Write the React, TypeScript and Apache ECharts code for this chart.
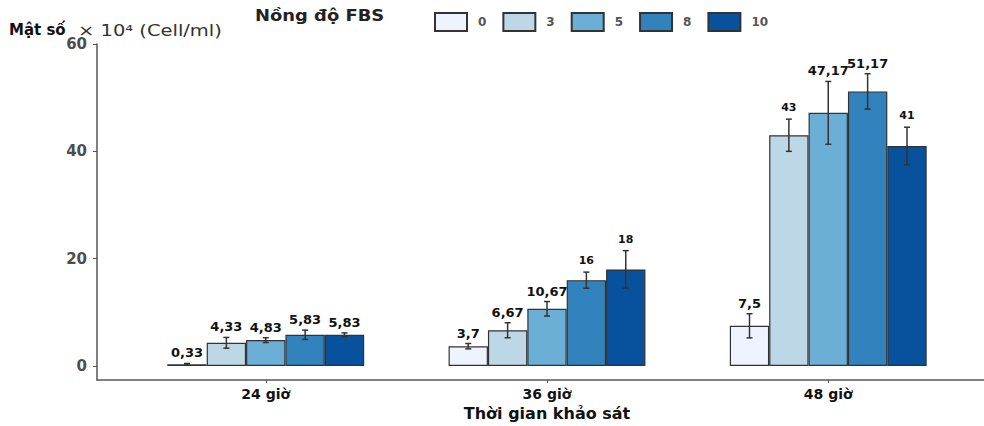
import React, { useEffect, useRef } from "react";
import * as echarts from "echarts";

const timeLabels = ["24 giờ", "36 giờ", "48 giờ"];
const fbsLevels = ["0", "3", "5", "8", "10"];
const mean24 = [0.33, 4.33, 4.83, 5.83, 5.83];
const mean36 = [3.7, 6.67, 10.67, 16, 18];
const mean48 = [7.5, 43, 47.17, 51.17, 41];
const err24 = [0.15, 1.0, 0.45, 0.87, 0.35];
const err36 = [0.5, 1.4, 1.35, 1.5, 3.5];
const err48 = [2.25, 3.0, 5.85, 3.3, 3.5];
const yTicks = [0, 20, 40, 60];

const colors = ["#eff3ff", "#bdd7e7", "#6baed6", "#3182bd", "#08519c"];
const FONT = "DejaVu Sans";
const barFrac = 0.14;

export default function App() {
  const ref = useRef<HTMLDivElement>(null);
  useEffect(() => {
    document.body.style.margin = "0";
    if (!ref.current) return;
    const chart = echarts.init(ref.current, undefined, { renderer: "svg" });
    const means = [mean24, mean36, mean48];
    const errs = [err24, err36, err48];
    const n = fbsLevels.length;

    const barSeries = fbsLevels.map((lvl, i) => ({
      name: lvl,
      type: "bar",
      barWidth: `${barFrac * 100}%`,
      barGap: "0%",
      itemStyle: { color: colors[i], borderColor: "#333", borderWidth: 1.2 },
      data: timeLabels.map((_, t) => [t + 1, means[t][i]]),
    }));

    const errData: number[][] = [];
    timeLabels.forEach((_, t) => {
      fbsLevels.forEach((__, i) => {
        errData.push([t + 1, i, means[t][i], errs[t][i]]);
      });
    });

    const errSeries = {
      type: "custom",
      data: errData,
      encode: { x: 0, y: 2 },
      z: 5,
      renderItem: (params: any, api: any) => {
        const t = api.value(0);
        const c = api.value(1);
        const m = api.value(2);
        const e = api.value(3);
        const bw = api.size([barFrac, 0])[0];
        const base = api.coord([t, m]);
        const x = base[0] + (c - (n - 1) / 2) * bw;
        const yTop = api.coord([t, m + e])[1];
        const yBot = api.coord([t, m - e])[1];
        const cap = 3;
        const ls = { stroke: "#333", lineWidth: 1.5 };
        const isInt = Number.isInteger(m);
        return {
          type: "group",
          children: [
            { type: "line", shape: { x1: x, y1: yTop, x2: x, y2: yBot }, style: ls },
            { type: "line", shape: { x1: x - cap, y1: yTop, x2: x + cap, y2: yTop }, style: ls },
            { type: "line", shape: { x1: x - cap, y1: yBot, x2: x + cap, y2: yBot }, style: ls },
            {
              type: "text",
              x: x,
              y: yTop - (isInt ? 6 : 4),
              style: {
                text: String(m).replace(".", ","),
                fontFamily: FONT,
                fontWeight: "bold",
                fontSize: isInt ? 11 : 13,
                fill: "#111",
                textAlign: "center",
                textVerticalAlign: "bottom",
              },
            },
          ],
        };
      },
    };

    chart.setOption({
      animation: false,
      textStyle: { fontFamily: FONT },
      grid: { left: 97, right: -13, top: 44, bottom: 46, containLabel: false, outerBoundsMode: "none" },
      legend: {
        data: fbsLevels,
        left: 429,
        top: 7,
        itemWidth: 32,
        itemHeight: 18,
        itemGap: 16,
        icon: "rect",
        selectedMode: false,
        textStyle: { color: "#555", fontWeight: "bold", fontSize: 12, fontFamily: FONT, padding: [0, 0, 0, 6] },
      },
      xAxis: {
        type: "value",
        min: 0.4,
        max: 3.6,
        splitLine: { show: false },
        axisLine: { onZero: false, lineStyle: { color: "#555", width: 1.5 } },
        axisTick: { show: true, customValues: [1, 2, 3], length: 3, lineStyle: { color: "#555" } },
        axisLabel: {
          customValues: [1, 2, 3],
          formatter: (v: number) => timeLabels[Math.round(v) - 1],
          color: "#111",
          fontWeight: "bold",
          fontSize: 14,
          fontFamily: FONT,
          margin: 7,
        },
        name: "Thời gian khảo sát",
        nameLocation: "middle",
        nameGap: 23,
        nameTextStyle: { color: "#111", fontWeight: "bold", fontSize: 16, fontFamily: FONT },
      },
      yAxis: {
        type: "value",
        min: -2.6,
        max: 60,
        splitLine: { show: false },
        axisLine: { show: true, lineStyle: { color: "#555", width: 1.5 } },
        axisTick: { show: true, customValues: yTicks, length: 4, lineStyle: { color: "#555" } },
        axisLabel: {
          customValues: yTicks,
          color: "#4d4d4d",
          fontSize: 15,
          fontWeight: "bold",
          fontFamily: FONT,
          margin: 10,
        },
      },
      graphic: [
        {
          type: "text",
          x: 9,
          y: 30,
          style: { text: "Mật số", fontFamily: FONT, fontWeight: "bold", fontSize: 15, fill: "#111", textVerticalAlign: "middle" },
        },
        {
          type: "text",
          x: 78,
          y: 31,
          scaleX: 1.3,
          style: { text: "× 10⁴ (Cell/ml)", fontFamily: FONT, fontSize: 15, fill: "#333", textVerticalAlign: "middle" },
        },
        {
          type: "text",
          x: 255,
          y: 15,
          scaleX: 1.12,
          style: { text: "Nồng độ FBS", fontFamily: FONT, fontWeight: "bold", fontSize: 16, fill: "#222", textVerticalAlign: "middle" },
        },
      ],
      series: [...barSeries, errSeries],
    });
    return () => chart.dispose();
  }, []);
  return <div ref={ref} style={{ width: 984, height: 426 }} />;
}
